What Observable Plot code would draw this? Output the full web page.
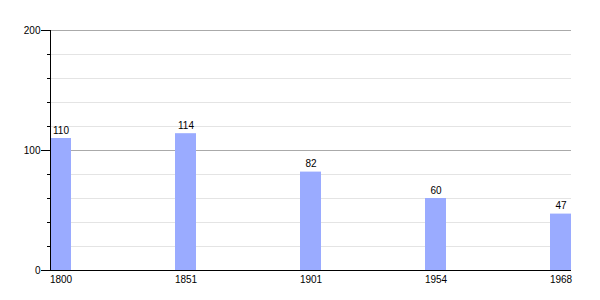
<!DOCTYPE html>
<html><head><meta charset="utf-8">
<script src="https://cdn.jsdelivr.net/npm/d3@7"></script>
<script src="https://cdn.jsdelivr.net/npm/@observablehq/plot@0.6"></script>
<style>body{margin:0;background:#fff;} svg{font-family:"Liberation Sans",Arial,sans-serif;}</style>
</head><body><div id="chart"></div>
<script>
const years = ["1800", "1851", "1901", "1954", "1968"];
const values = [110, 114, 82, 60, 47];
const majorTicks = [0, 100, 200];
const minorTicks = [0, 20, 40, 60, 80, 100, 120, 140, 160, 180, 200];
const data = years.map((y, i) => ({year: y, value: values[i]}));

const chart = Plot.plot({
  width: 600, height: 300,
  marginLeft: 50, marginRight: 29, marginTop: 30, marginBottom: 30,
  style: {fontSize: "10px", fontFamily: "Liberation Sans, Arial, sans-serif", color: "#000", background: "#fff"},
  x: {type: "band", domain: years, paddingInner: 0.832, paddingOuter: 0, align: 0, label: null},
  y: {domain: [0, 200], label: null},
  marks: [
    Plot.gridY(minorTicks, {stroke: "#e4e4e4", strokeOpacity: 1}),
    Plot.gridY(majorTicks, {stroke: "#aaaaaa", strokeOpacity: 1}),
    Plot.barY(data, {x: "year", y: "value", fill: "#9aabff"}),
    Plot.text(data, {x: "year", y: "value", text: d => String(d.value), dy: -8, fill: "#000"}),
    Plot.axisY(minorTicks, {tickSize: 3, text: null, stroke: "#000"}),
    Plot.axisY(majorTicks, {tickSize: 9, tickPadding: 1, stroke: "#000"}),
    Plot.axisX({tickSize: 0, tickPadding: 5}),
    Plot.ruleY([0], {stroke: "#000"}),
    Plot.frame({anchor: "left", stroke: "#000"})
  ]
});
document.getElementById("chart").appendChild(chart);
</script></body></html>
